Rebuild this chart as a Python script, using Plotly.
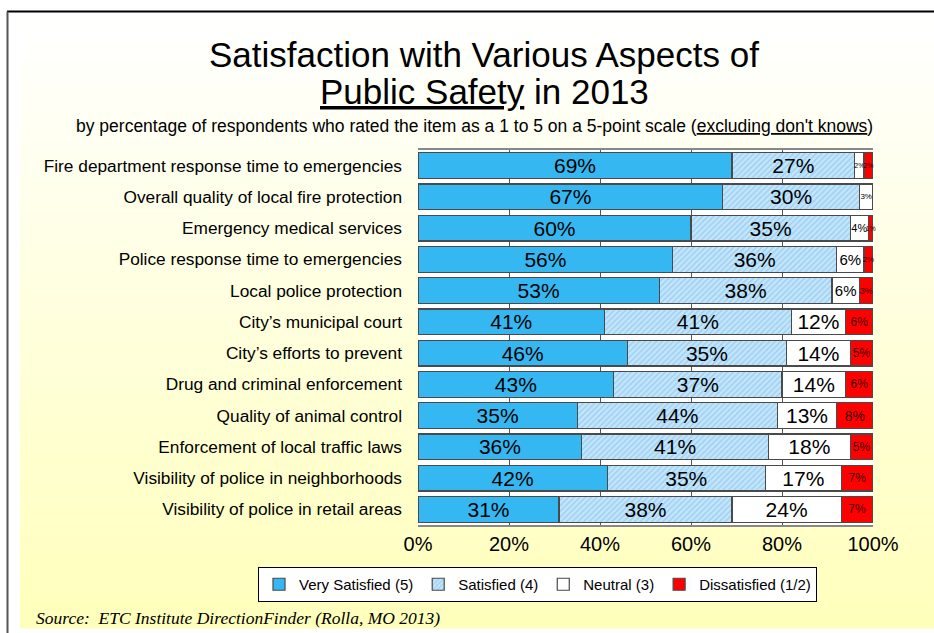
import plotly.graph_objects as go

categories = [
    "Fire department response time to emergencies",
    "Overall quality of local fire protection",
    "Emergency medical services",
    "Police response time to emergencies",
    "Local police protection",
    "City\u2019s municipal court",
    "City\u2019s efforts to prevent",
    "Drug and criminal enforcement",
    "Quality of animal control",
    "Enforcement of local traffic laws",
    "Visibility of police in neighborhoods",
    "Visibility of police in retail areas",
]
very_satisfied = [69, 67, 60, 56, 53, 41, 46, 43, 35, 36, 41.6, 31]
satisfied = [27, 30, 35, 36, 38, 41, 35, 37, 44, 41, 34.7, 38]
neutral = [2, 3, 4, 6, 6, 12, 14, 14, 13, 18, 16.8, 24]
dissatisfied = [2, 1, 1, 2, 3, 6, 5, 6, 8, 5, 6.9, 7]
series_names = ["Very Satisfied (5)", "Satisfied (4)", "Neutral (3)", "Dissatisfied (1/2)"]
x_ticks = [0, 20, 40, 60, 80, 100]
x_ticklabels = ["0%", "20%", "40%", "60%", "80%", "100%"]

W, H = 934, 633
L, R, T, B = 418, 61, 150, 108
PW, PH = W - L - R, H - T - B


def px(x):
    return (x - L) / PW


def py(y):
    return (H - B - y) / PH


def labels(vals):
    return [f"{round(v)}%" for v in vals]


font = "Liberation Sans, Arial, sans-serif"
outline = dict(color="#4a4a4a", width=1.2)
common = dict(orientation="h", textposition="inside", insidetextanchor="middle",
              textangle=0, constraintext="none", cliponaxis=False)

fig = go.Figure()
fig.add_trace(go.Bar(
    y=categories, x=very_satisfied, name=series_names[0],
    marker=dict(color="#35B8F2", line=outline),
    text=labels(very_satisfied),
    textfont=dict(size=21, color="black", family=font), **common,
))
fig.add_trace(go.Bar(
    y=categories, x=satisfied, name=series_names[1],
    marker=dict(color="#C4E5FA", line=outline,
                pattern=dict(shape="/", fgcolor="#6DB8EC", bgcolor="#C4E5FA",
                             size=4, solidity=0.35)),
    text=labels(satisfied),
    textfont=dict(size=21, color="black", family=font), **common,
))
fig.add_trace(go.Bar(
    y=categories, x=neutral, name=series_names[2],
    marker=dict(color="white", line=outline),
    text=labels(neutral),
    textfont=dict(size=[7, 8, 11, 15, 15, 21, 21, 21, 21, 21, 21, 21],
                  color="black", family=font), **common,
))
fig.add_trace(go.Bar(
    y=categories, x=dissatisfied, name=series_names[3],
    marker=dict(color="#FF0000", line=outline),
    text=labels(dissatisfied),
    textfont=dict(size=[7, 7, 7, 8, 9, 12, 12, 12, 14, 12, 12, 12],
                  color="#3a0000", family=font), **common,
))

shapes = []
# background gradient (white -> pale yellow)
top, bot, n = 20, 628, 60
for i in range(n):
    y0 = top + (bot - top) * i / n
    y1 = top + (bot - top) * (i + 1) / n + 0.5
    t = (i + 0.5) / n
    b = int(round(255 - t * 68))
    shapes.append(dict(type="rect", xref="paper", yref="paper", layer="below",
                       x0=px(20), x1=px(W + 5), y0=py(y1), y1=py(y0),
                       fillcolor=f"rgb(255,255,{b})", line=dict(width=0)))
# white plot area
shapes.append(dict(type="rect", xref="paper", yref="paper", layer="below",
                   x0=0, x1=1, y0=0, y1=1, fillcolor="white", line=dict(width=0)))
# frame lines
shapes.append(dict(type="line", xref="paper", yref="paper", layer="above",
                   x0=px(7), x1=px(W + 5), y0=py(11.5), y1=py(11.5),
                   line=dict(color="black", width=2)))
shapes.append(dict(type="line", xref="paper", yref="paper", layer="above",
                   x0=px(7.5), x1=px(7.5), y0=py(11.5), y1=py(H + 5),
                   line=dict(color="#555555", width=2)))

annotations = [
    dict(text="Satisfaction with Various Aspects of", x=px(484), y=py(54),
         xref="paper", yref="paper", showarrow=False, xanchor="center", yanchor="middle",
         font=dict(size=35, family=font, color="black")),
    dict(text="<u>Public Safety</u> in 2013", x=px(484), y=py(91),
         xref="paper", yref="paper", showarrow=False, xanchor="center", yanchor="middle",
         font=dict(size=35, family=font, color="black")),
    dict(text="by percentage of respondents who rated the item as a 1 to 5 on a 5-point scale (<u>excluding don't knows</u>)",
         x=px(474), y=py(126), xref="paper", yref="paper", showarrow=False,
         xanchor="center", yanchor="middle",
         font=dict(size=17.5, family=font, color="black")),
    dict(text="<i>Source:  ETC Institute DirectionFinder (Rolla, MO 2013)</i>",
         x=px(34), y=py(618), xref="paper", yref="paper", showarrow=False,
         xanchor="left", yanchor="middle",
         font=dict(size=17.5, family="Liberation Serif, Times New Roman, serif", color="black")),
]

fig.update_layout(
    width=W, height=H,
    margin=dict(l=L, r=R, t=T, b=B, pad=0, autoexpand=False),
    barmode="stack", bargap=0.17,
    paper_bgcolor="white", plot_bgcolor="white",
    font=dict(family=font, color="black"),
    showlegend=True,
    legend=dict(orientation="h", traceorder="normal",
                x=px(258), xanchor="left", y=py(567), yanchor="top",
                bgcolor="white", bordercolor="black", borderwidth=1,
                font=dict(size=15, family=font), itemwidth=30, tracegroupgap=0,
                itemclick=False),
    shapes=shapes, annotations=annotations,
)
fig.update_xaxes(range=[0, 100.001], tickvals=x_ticks, ticktext=x_ticklabels,
                 showgrid=True, gridcolor="#555555", gridwidth=1,
                 showline=True, linecolor="#888888", mirror=True, linewidth=1.5,
                 tickfont=dict(size=20, family=font, color="black"),
                 ticks="", zeroline=False, fixedrange=True)
fig.update_yaxes(autorange="reversed", showgrid=False, showline=False,
                 tickfont=dict(size=17.3, family=font, color="black"),
                 ticks="", ticklabelstandoff=15, fixedrange=True)

fig.write_html("out.html", config={"displayModeBar": False},
               post_script="document.body.style.margin='0';document.body.style.overflow='hidden';")
